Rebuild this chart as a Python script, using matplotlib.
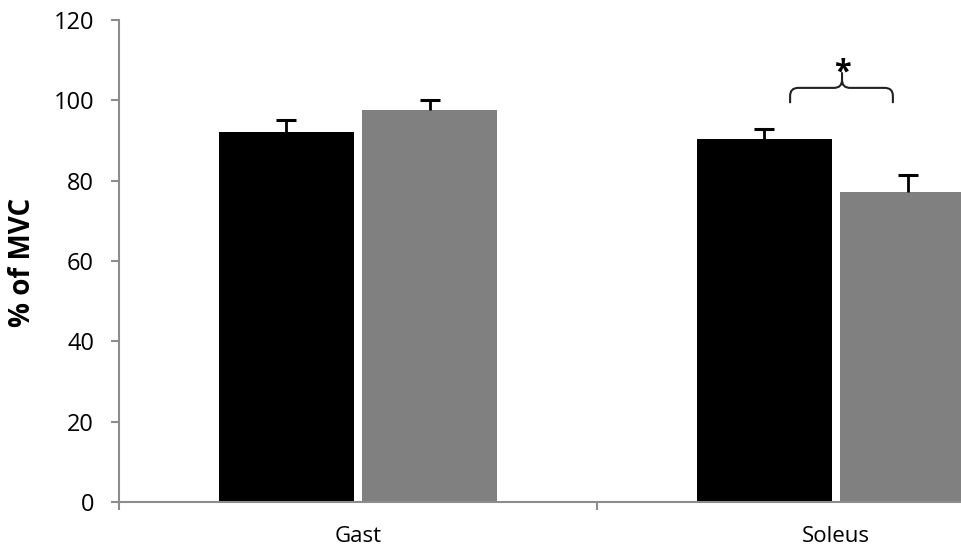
import matplotlib
matplotlib.use('Agg')
import matplotlib.pyplot as plt
import numpy as np
from matplotlib.path import Path
from matplotlib.patches import PathPatch

categories = ['Gast', 'Soleus']
series1 = [92.1, 90.4]
series1_err = [3.0, 2.5]
series2 = [97.6, 77.2]
series2_err = [2.4, 4.2]
yticks = [0, 20, 40, 60, 80, 100, 120]

plt.rcParams['font.family'] = ['Open Sans', 'DejaVu Sans']

fig = plt.figure(figsize=(9.61, 5.53), dpi=100)
ax = fig.add_axes([119/961, 51/553, 956/961, 482/553])

x = np.arange(len(categories))
w = 0.282
off = 0.15
for xs, vals, errs, col in [(x - off, series1, series1_err, 'black'),
                            (x + off, series2, series2_err, '#808080')]:
    ax.bar(xs, vals, w, color=col, zorder=2)
    tops = np.array(vals) + np.array(errs)
    ax.vlines(xs, vals, tops, colors='black', lw=2, zorder=3)
    ax.plot(xs, tops, linestyle='none', marker='_', markersize=14, mew=2.2, color='black', zorder=3)

ax.set_xlim(-0.5, len(categories) - 0.5)
ax.set_ylim(0, 120)
ax.set_yticks(yticks)
ax.set_yticklabels([str(t) for t in yticks], fontsize=17)
ax.set_xticks(x)
ax.set_xticklabels(categories, fontsize=16)
ax.set_xticks(np.arange(len(categories) + 1) - 0.5, minor=True)

for s in ['top', 'right']:
    ax.spines[s].set_visible(False)
for s in ['left', 'bottom']:
    ax.spines[s].set_color('#8c8c8c')
    ax.spines[s].set_linewidth(1.5)

ax.tick_params(axis='y', direction='out', length=6, width=1.5, color='#8c8c8c', pad=12)
ax.tick_params(axis='x', which='major', length=0, pad=17)
ax.tick_params(axis='x', which='minor', direction='out', length=6, width=1.5, color='#8c8c8c')

ax.set_ylabel('% of MVC', fontsize=20, fontweight='bold')
ax.yaxis.label.set_va('center')
ax.yaxis.set_label_coords((23 - 119) / 956, (502 - 262) / 482)

# significance bracket over Soleus
xl, xr, xm = 0.904, 1.119, 1.0126
yb, yh, ytop = 99.3, 103.1, 107.0
rx, ry = 0.017, 2.0
verts = [(xl, yb), (xl, yh - ry), (xl, yh), (xl + rx, yh), (xm - rx, yh), (xm, yh), (xm, yh + ry), (xm, ytop),
         (xm, yh + ry), (xm, yh), (xm + rx, yh), (xr - rx, yh), (xr, yh), (xr, yh - ry), (xr, yb)]
codes = [Path.MOVETO, Path.LINETO, Path.CURVE3, Path.CURVE3, Path.LINETO, Path.CURVE3, Path.CURVE3, Path.LINETO,
         Path.MOVETO, Path.CURVE3, Path.CURVE3, Path.LINETO, Path.CURVE3, Path.CURVE3, Path.LINETO]
ax.add_patch(PathPatch(Path(verts, codes), facecolor='none', edgecolor='#222222', lw=1.5,
                       clip_on=False, zorder=4))
ax.text(xm, 106.8, '*', ha='center', va='center', fontsize=22, fontweight='bold', clip_on=False)

fig.savefig('out.png', dpi=100)
